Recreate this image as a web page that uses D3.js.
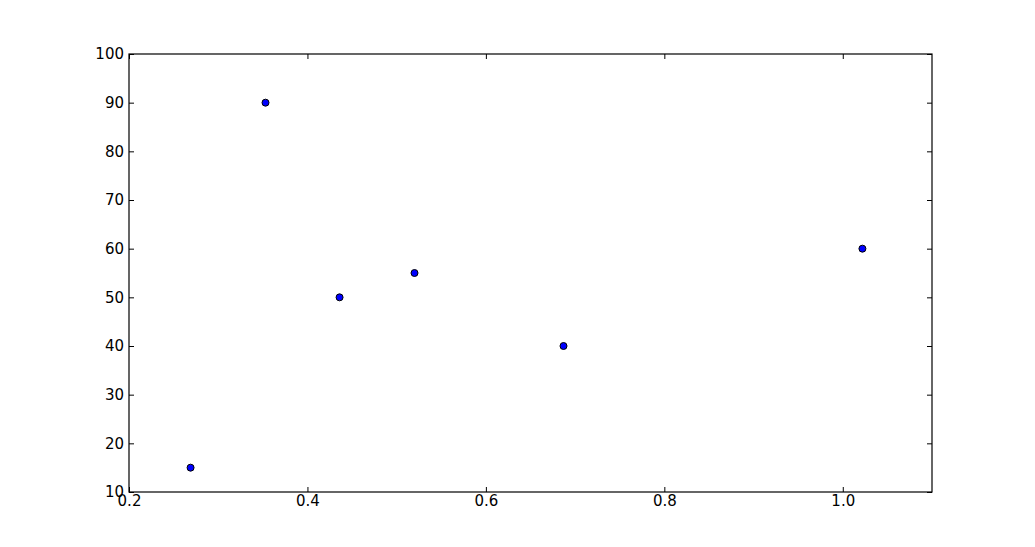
<!DOCTYPE html>
<html>
<head>
<meta charset="utf-8">
<script src="https://cdn.jsdelivr.net/npm/d3@7"></script>
<style>
  body { margin: 0; background: #fff; }
  text { font-family: "DejaVu Sans", sans-serif; }
</style>
</head>
<body>
<div id="scatter"></div>
<script>
// data
var xValues = [0.269, 0.353, 0.436, 0.520, 0.687, 1.022];
var yValues = [15, 90, 50, 55, 40, 60];
var xTicks = [0.2, 0.4, 0.6, 0.8, 1.0];
var yTicks = [10, 20, 30, 40, 50, 60, 70, 80, 90, 100];

var svgWidth = 1035, svgHeight = 547;
var margin = { top: 54, right: 103, bottom: 55, left: 129 };
var width = 932 - margin.left;
var height = 492 - margin.top;

var svg = d3.select("#scatter")
  .append("svg")
  .attr("width", svgWidth)
  .attr("height", svgHeight);

var chartGroup = svg.append("g")
  .attr("transform", `translate(${margin.left}, ${margin.top})`);

var xScale = d3.scaleLinear().domain([0.2, 1.1]).range([0, width]);
var yScale = d3.scaleLinear().domain([10, 100]).range([height, 0]);

var fmtX = d3.format(".1f");

// inward ticks on all four sides, matplotlib classic look
function styleAxis(g) {
  g.select(".domain").remove();
  g.selectAll(".tick line").attr("stroke", "#000").attr("stroke-width", 1);
  g.selectAll(".tick text")
    .attr("font-size", "15px")
    .attr("fill", "#000");
}

chartGroup.append("g")
  .attr("transform", `translate(0, ${height})`)
  .call(d3.axisBottom(xScale).tickValues(xTicks).tickFormat(fmtX).tickSizeInner(-5).tickPadding(3))
  .call(styleAxis);

chartGroup.append("g")
  .call(d3.axisTop(xScale).tickValues(xTicks).tickFormat("").tickSizeInner(-5))
  .call(styleAxis);

chartGroup.append("g")
  .call(d3.axisLeft(yScale).tickValues(yTicks).tickSizeInner(-5).tickPadding(5))
  .call(styleAxis);

chartGroup.append("g")
  .attr("transform", `translate(${width}, 0)`)
  .call(d3.axisRight(yScale).tickValues(yTicks).tickFormat("").tickSizeInner(-5))
  .call(styleAxis);

// frame
chartGroup.append("rect")
  .attr("x", 0)
  .attr("y", 0)
  .attr("width", width)
  .attr("height", height)
  .attr("fill", "none")
  .attr("stroke", "#000")
  .attr("stroke-width", 1.2);

chartGroup.selectAll("circle")
  .data(xValues)
  .enter()
  .append("circle")
  .attr("cx", d => xScale(d))
  .attr("cy", (d, i) => yScale(yValues[i]))
  .attr("r", 3.5)
  .attr("fill", "#0000ff")
  .attr("stroke", "#000")
  .attr("stroke-width", 1);
</script>
</body>
</html>
